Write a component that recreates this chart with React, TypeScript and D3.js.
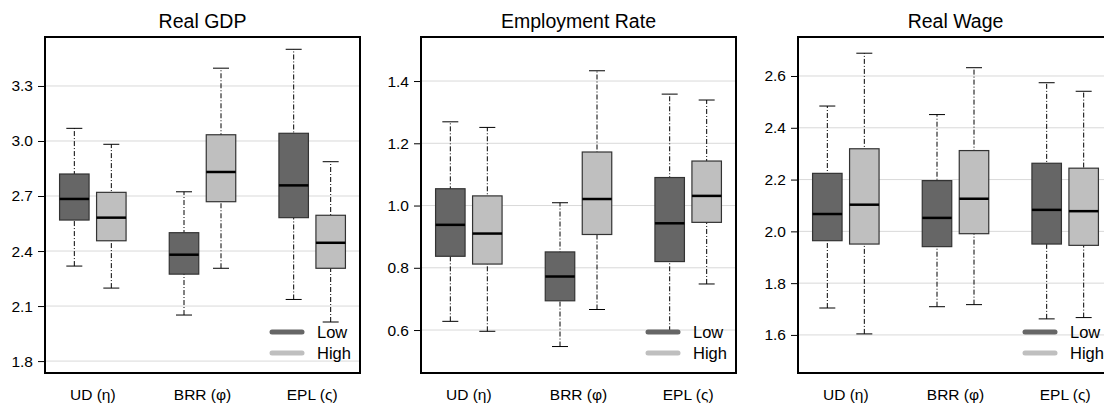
import React, { useEffect, useRef } from 'react';
import * as d3 from 'd3';

const categories = ['UD (η)', 'BRR (φ)', 'EPL (ς)'];
const groups = ['Low', 'High'];
const panelTitles = ['Real GDP', 'Employment Rate', 'Real Wage'];
const panelDomains = [[1.735, 3.567], [0.462, 1.5415], [1.453, 2.7506]];
const panelTicks = [
  [1.8, 2.1, 2.4, 2.7, 3.0, 3.3],
  [0.6, 0.8, 1.0, 1.2, 1.4],
  [1.6, 1.8, 2.0, 2.2, 2.4, 2.6],
];

// each row: [whiskerLow, q1, median, q3, whiskerHigh], ordered Low/High per category
const gdpStats = [
  [2.318, 2.569, 2.684, 2.82, 3.069], [2.198, 2.456, 2.582, 2.72, 2.982],
  [2.051, 2.274, 2.38, 2.50, 2.723], [2.306, 2.669, 2.831, 3.034, 3.397],
  [2.136, 2.582, 2.758, 3.042, 3.50], [2.013, 2.306, 2.445, 2.595, 2.887],
];
const employmentStats = [
  [0.628, 0.837, 0.938, 1.054, 1.269], [0.596, 0.812, 0.910, 1.031, 1.251],
  [0.547, 0.694, 0.772, 0.851, 1.009], [0.666, 0.907, 1.021, 1.172, 1.433],
  [0.596, 0.820, 0.943, 1.090, 1.358], [0.748, 0.946, 1.031, 1.143, 1.339],
];
const wageStats = [
  [1.704, 1.964, 2.067, 2.224, 2.484], [1.604, 1.951, 2.103, 2.319, 2.688],
  [1.709, 1.941, 2.052, 2.196, 2.451], [1.717, 1.991, 2.126, 2.312, 2.632],
  [1.662, 1.951, 2.083, 2.263, 2.574], [1.667, 1.946, 2.078, 2.244, 2.541],
];
const panelStats = [gdpStats, employmentStats, wageStats];

const fills = { Low: '#666666', High: '#bfbfbf' };
const font = '"Liberation Sans", Arial, sans-serif';

const App = () => {
  const node = useRef<SVGSVGElement>(null);

  useEffect(() => {
    const svg = d3.select(node.current);
    svg.selectAll('*').remove();

    const W = 315;
    const top = 37;
    const bottom = 373;
    const lefts = [45, 421, 798];

    const x = d3.scalePoint<string>().domain(categories).range([0, W]).padding(0.436);
    const off = d3.scalePoint<string>().domain(groups).range([-18.5, 18.5]);
    const boxW = 29.5;

    panelTitles.forEach((title, p) => {
      const g = svg.append('g').attr('transform', `translate(${lefts[p]},0)`);
      const y = d3.scaleLinear().domain(panelDomains[p]).range([bottom, top]);

      g.append('g')
        .selectAll('line')
        .data(panelTicks[p])
        .join('line')
          .attr('x1', 0).attr('x2', W)
          .attr('y1', d => y(d)).attr('y2', d => y(d))
          .attr('stroke', '#d9d9d9');

      const axis = g.append('g')
        .call(d3.axisLeft(y).tickValues(panelTicks[p]).tickFormat(d3.format('.1f')).tickSize(7).tickPadding(5));
      axis.select('.domain').remove();
      axis.selectAll('text').attr('font-family', font).attr('font-size', 15.5).attr('fill', '#000');
      axis.selectAll('line').attr('stroke', '#000');

      g.append('g')
        .selectAll('text')
        .data(categories)
        .join('text')
          .attr('x', d => x(d))
          .attr('y', 400)
          .attr('text-anchor', 'middle')
          .attr('font-family', font)
          .attr('font-size', 15.5)
          .text(d => d);

      g.append('text')
        .attr('x', W / 2)
        .attr('y', 28)
        .attr('text-anchor', 'middle')
        .attr('font-family', font)
        .attr('font-size', 19.5)
        .text(title);

      const rows = panelStats[p].map((s, i) => ({
        cat: categories[Math.floor(i / 2)],
        grp: groups[i % 2],
        s,
      }));

      const box = g.append('g')
        .selectAll('g')
        .data(rows)
        .join('g')
          .attr('transform', d => `translate(${x(d.cat) + off(d.grp)},0)`);

      box.append('line')
        .attr('y1', d => y(d.s[0])).attr('y2', d => y(d.s[4]))
        .attr('stroke', '#000')
        .attr('stroke-dasharray', '5,2,1,2');
      box.append('line')
        .attr('x1', -8).attr('x2', 8)
        .attr('y1', d => y(d.s[0])).attr('y2', d => y(d.s[0]))
        .attr('stroke', '#000');
      box.append('line')
        .attr('x1', -8).attr('x2', 8)
        .attr('y1', d => y(d.s[4])).attr('y2', d => y(d.s[4]))
        .attr('stroke', '#000');
      box.append('rect')
        .attr('x', -boxW / 2)
        .attr('width', boxW)
        .attr('y', d => y(d.s[3]))
        .attr('height', d => y(d.s[1]) - y(d.s[3]))
        .attr('fill', d => fills[d.grp])
        .attr('stroke', '#333')
        .attr('stroke-width', 1.2);
      box.append('line')
        .attr('x1', -boxW / 2).attr('x2', boxW / 2)
        .attr('y1', d => y(d.s[2])).attr('y2', d => y(d.s[2]))
        .attr('stroke', '#000')
        .attr('stroke-width', 2.5);

      const legend = g.append('g')
        .selectAll('g')
        .data(groups)
        .join('g')
          .attr('transform', (d, i) => `translate(0,${332 + i * 21})`);
      legend.append('line')
        .attr('x1', 227).attr('x2', 257)
        .attr('stroke', d => fills[d])
        .attr('stroke-width', 5)
        .attr('stroke-linecap', 'round');
      legend.append('text')
        .attr('x', 272)
        .attr('y', 5.5)
        .attr('font-family', font)
        .attr('font-size', 16.5)
        .text(d => d);

      g.append('rect')
        .attr('x', 0).attr('y', top)
        .attr('width', W).attr('height', bottom - top)
        .attr('fill', 'none')
        .attr('stroke', '#000')
        .attr('stroke-width', 2);
    });
  }, []);

  return (
    <svg
      ref={node}
      width={1104}
      height={406}
      style={{ position: 'absolute', left: 0, top: 0, background: '#fff' }}
    />
  );
};

export default App;
